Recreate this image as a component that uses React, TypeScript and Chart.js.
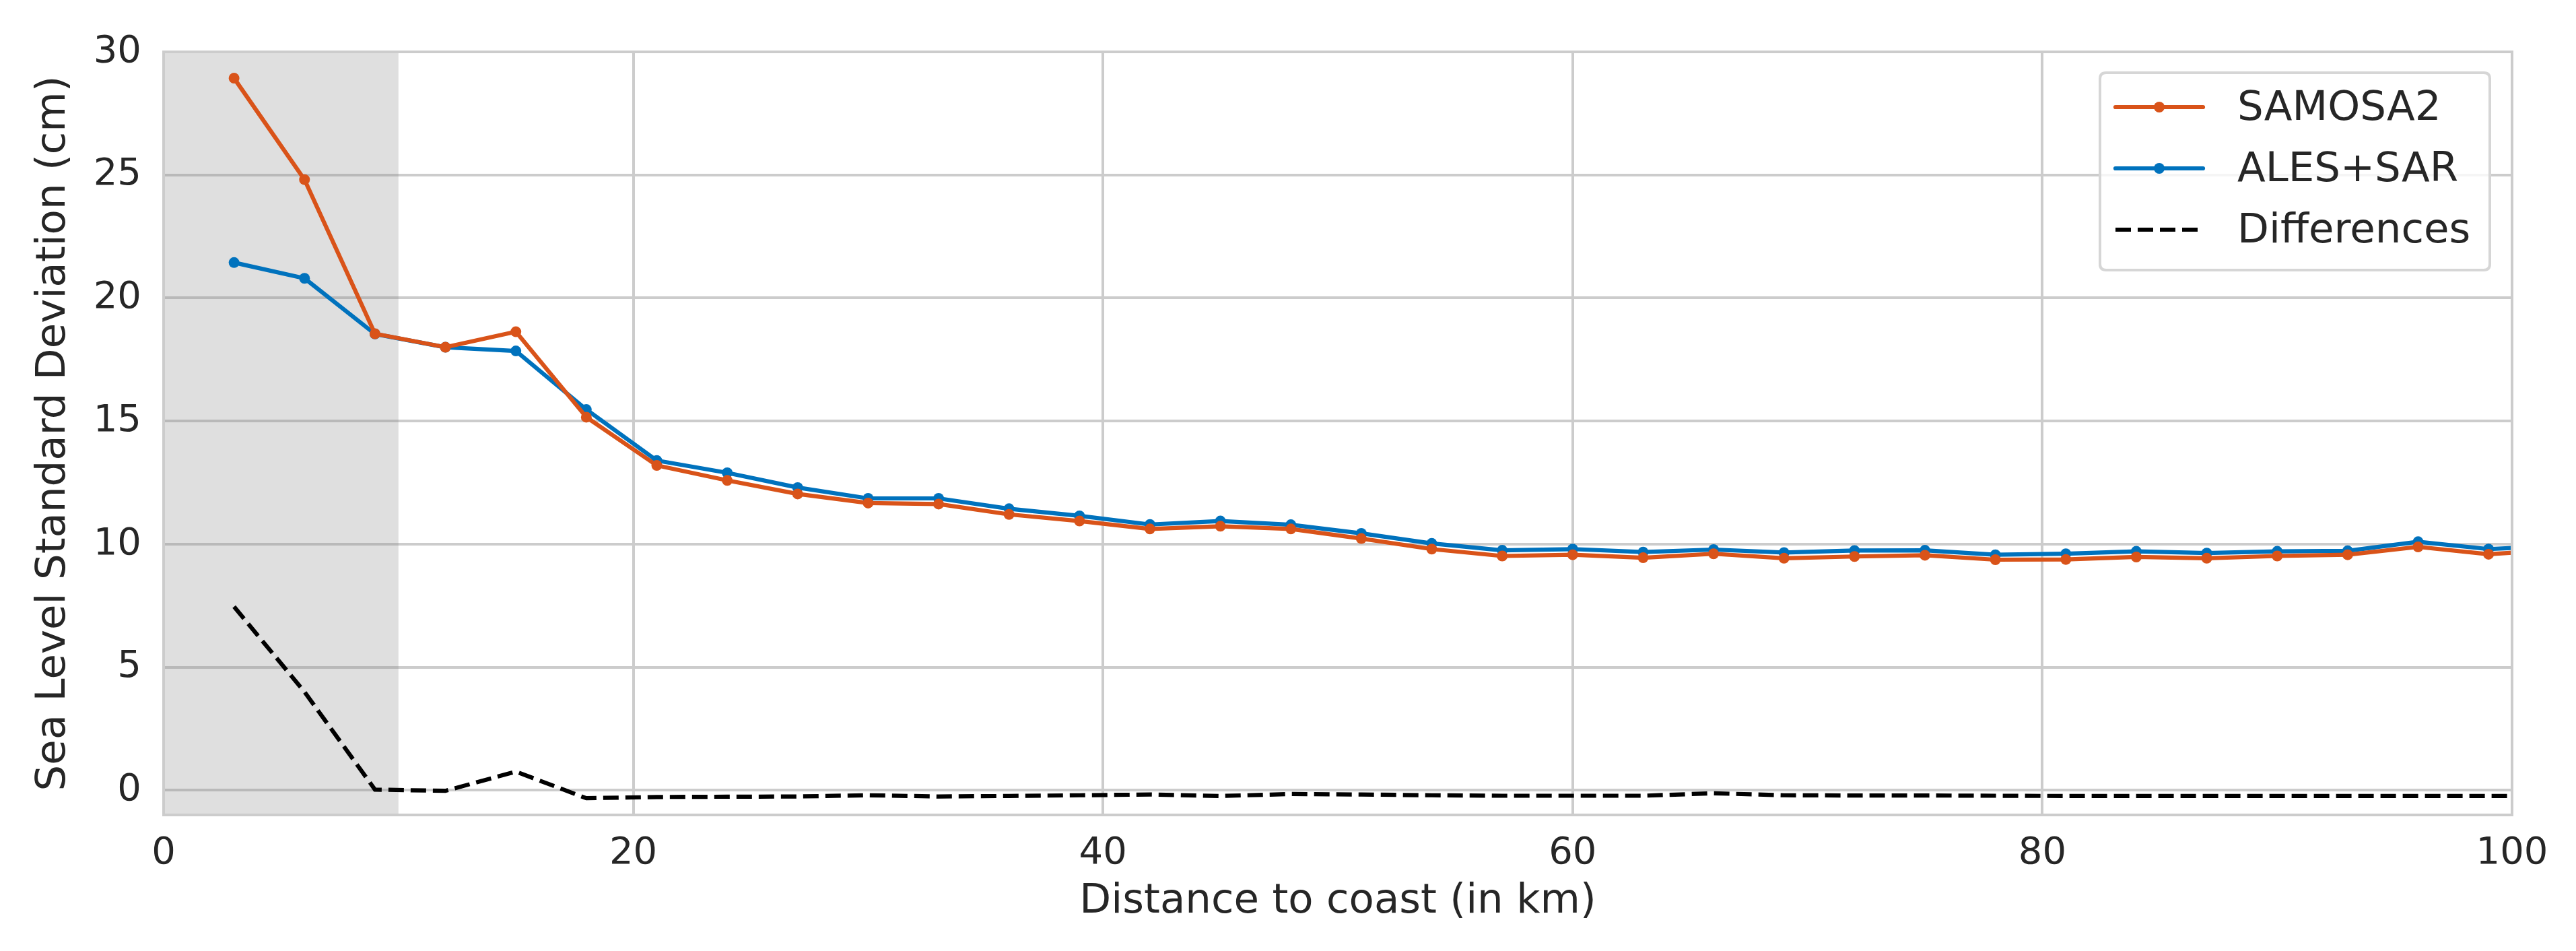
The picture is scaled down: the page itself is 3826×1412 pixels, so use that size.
import React, { useEffect, useRef } from "react";
import { Chart, registerables } from "chart.js";

Chart.register(...registerables);

// ---- data ----
const distanceKm = [3, 6, 9, 12, 15, 18, 21, 24, 27, 30, 33, 36, 39, 42, 45, 48, 51, 54, 57, 60, 63, 66, 69, 72, 75, 78, 81, 84, 87, 90, 93, 96, 99, 102];

const samosa2 = [28.93, 24.81, 18.55, 18.0, 18.63, 15.16, 13.2, 12.59, 12.04, 11.67, 11.63, 11.21, 10.94, 10.62, 10.73, 10.62, 10.23, 9.8, 9.52, 9.57, 9.45, 9.61, 9.43, 9.5, 9.55, 9.37, 9.38, 9.48, 9.43, 9.52, 9.57, 9.89, 9.59, 9.78];

const alesSar = [21.44, 20.8, 18.54, 18.0, 17.85, 15.47, 13.4, 12.9, 12.3, 11.86, 11.86, 11.44, 11.15, 10.8, 10.94, 10.79, 10.44, 10.03, 9.75, 9.8, 9.68, 9.78, 9.66, 9.74, 9.75, 9.57, 9.61, 9.71, 9.64, 9.71, 9.73, 10.1, 9.8, 9.94];

const differences = [7.46, 4.0, 0.03, -0.02, 0.76, -0.32, -0.27, -0.26, -0.25, -0.2, -0.25, -0.23, -0.2, -0.17, -0.23, -0.15, -0.17, -0.2, -0.22, -0.22, -0.22, -0.12, -0.2, -0.21, -0.21, -0.22, -0.23, -0.23, -0.23, -0.23, -0.23, -0.23, -0.23, -0.23];

const seriesNames = ["SAMOSA2", "ALES+SAR", "Differences"];
const xTicks = [0, 20, 40, 60, 80, 100];
const yTicks = [0, 5, 10, 15, 20, 25, 30];
const xRange = [0, 100];
const yRange = [-1, 30];
const coastalZone = [0, 10];
const xTitle = "Distance to coast (in km)";
const yTitle = "Sea Level Standard Deviation (cm)";

// ---- styles ----
const ORANGE = "#D95319";
const BLUE = "#0072BD";
const TEXT = "#262626";
const GRID = "#cccccc";
const FONT = "'DejaVu Sans', sans-serif";
const LINE_W = 6.2;
const POINT_R = 8;
const DASH = [23, 10];

const toPoints = (ys: number[]) => distanceKm.map((x, i) => ({ x, y: ys[i] }));

const shadePlugin = {
  id: "shade",
  beforeDatasetsDraw(chart: any) {
    const { ctx, chartArea, scales } = chart;
    const x0 = scales.x.getPixelForValue(coastalZone[0]);
    const x1 = scales.x.getPixelForValue(coastalZone[1]);
    ctx.save();
    ctx.fillStyle = "rgba(128,128,128,0.25)";
    ctx.fillRect(x0, chartArea.top, x1 - x0, chartArea.bottom - chartArea.top);
    ctx.restore();
  },
};

const spinePlugin = {
  id: "spines",
  afterDatasetsDraw(chart: any) {
    const { ctx, chartArea } = chart;
    ctx.save();
    ctx.strokeStyle = GRID;
    ctx.lineWidth = 4;
    ctx.strokeRect(chartArea.left, chartArea.top, chartArea.right - chartArea.left, chartArea.bottom - chartArea.top);
    ctx.restore();
  },
};

const legendPlugin = {
  id: "customLegend",
  afterDraw(chart: any) {
    const { ctx } = chart;
    const bx = 3119, by = 108, bw = 579, bh = 293, r = 9;
    ctx.save();
    ctx.beginPath();
    ctx.moveTo(bx + r, by);
    ctx.lineTo(bx + bw - r, by);
    ctx.quadraticCurveTo(bx + bw, by, bx + bw, by + r);
    ctx.lineTo(bx + bw, by + bh - r);
    ctx.quadraticCurveTo(bx + bw, by + bh, bx + bw - r, by + bh);
    ctx.lineTo(bx + r, by + bh);
    ctx.quadraticCurveTo(bx, by + bh, bx, by + bh - r);
    ctx.lineTo(bx, by + r);
    ctx.quadraticCurveTo(bx, by, bx + r, by);
    ctx.closePath();
    ctx.fillStyle = "rgba(255,255,255,0.8)";
    ctx.fill();
    ctx.strokeStyle = "#d6d6d6";
    ctx.lineWidth = 4;
    ctx.stroke();

    const colors = [ORANGE, BLUE, "#000000"];
    const rows = [159, 250, 341];
    const lx0 = 3142, lx1 = 3272;
    seriesNames.forEach((name, i) => {
      const y = rows[i];
      ctx.beginPath();
      ctx.strokeStyle = colors[i];
      ctx.lineWidth = LINE_W;
      if (i === 2) {
        ctx.setLineDash(DASH);
        ctx.lineCap = "butt";
      } else {
        ctx.setLineDash([]);
        ctx.lineCap = "round";
      }
      ctx.moveTo(lx0, y);
      ctx.lineTo(lx1, y);
      ctx.stroke();
      ctx.setLineDash([]);
      if (i < 2) {
        ctx.beginPath();
        ctx.fillStyle = colors[i];
        ctx.arc((lx0 + lx1) / 2, y, POINT_R, 0, Math.PI * 2);
        ctx.fill();
      }
      ctx.fillStyle = TEXT;
      ctx.font = `61px ${FONT}`;
      ctx.textAlign = "left";
      ctx.textBaseline = "middle";
      ctx.fillText(name, 3323, y + 3);
    });
    ctx.restore();
  },
};

export default function App() {
  const ref = useRef<HTMLCanvasElement>(null);

  useEffect(() => {
    const canvas = ref.current;
    if (!canvas) return;
    const chart = new Chart(canvas, {
      type: "line",
      data: {
        datasets: [
          {
            label: seriesNames[0],
            data: toPoints(samosa2),
            borderColor: ORANGE,
            backgroundColor: ORANGE,
            borderWidth: LINE_W,
            pointRadius: POINT_R,
            pointBorderWidth: 0,
            pointBackgroundColor: ORANGE,
            borderJoinStyle: "round",
            tension: 0,
          },
          {
            label: seriesNames[1],
            data: toPoints(alesSar),
            borderColor: BLUE,
            backgroundColor: BLUE,
            borderWidth: LINE_W,
            pointRadius: POINT_R,
            pointBorderWidth: 0,
            pointBackgroundColor: BLUE,
            borderJoinStyle: "round",
            tension: 0,
          },
          {
            label: seriesNames[2],
            data: toPoints(differences),
            borderColor: "#000000",
            backgroundColor: "#000000",
            borderWidth: LINE_W,
            borderDash: DASH,
            pointRadius: 0,
            tension: 0,
          },
        ],
      },
      options: {
        animation: false,
        responsive: false,
        devicePixelRatio: 1,
        events: [],
        layout: { padding: { left: 0, right: 95, top: 77, bottom: 0 } },
        plugins: {
          legend: { display: false },
          tooltip: { enabled: false },
          title: { display: false },
        },
        scales: {
          x: {
            type: "linear",
            min: xRange[0],
            max: xRange[1],
            afterBuildTicks: (scale: any) => {
              scale.ticks = xTicks.map((v) => ({ value: v }));
            },
            afterFit: (scale: any) => {
              scale.height = 202;
            },
            grid: { color: GRID, lineWidth: 4, drawTicks: false },
            border: { display: false },
            ticks: {
              padding: 24,
              color: TEXT,
              font: { family: FONT, size: 56 },
              maxRotation: 0,
              callback: (v: any) => String(v),
            },
            title: {
              display: true,
              text: xTitle,
              color: TEXT,
              font: { family: FONT, size: 61 },
              padding: { top: 0, bottom: 36 },
            },
          },
          y: {
            type: "linear",
            min: yRange[0],
            max: yRange[1],
            afterBuildTicks: (scale: any) => {
              scale.ticks = yTicks.map((v) => ({ value: v }));
            },
            afterFit: (scale: any) => {
              scale.width = 243;
            },
            grid: { color: GRID, lineWidth: 4, drawTicks: false },
            border: { display: false },
            ticks: {
              padding: 33,
              color: TEXT,
              font: { family: FONT, size: 56 },
              callback: (v: any) => String(v),
            },
            title: {
              display: true,
              text: yTitle,
              color: TEXT,
              font: { family: FONT, size: 61 },
              padding: { top: 44, bottom: 0 },
            },
          },
        },
      },
      plugins: [shadePlugin, spinePlugin, legendPlugin],
    } as any);
    return () => chart.destroy();
  }, []);

  return (
    <div style={{ position: "fixed", left: 0, top: 0, width: 3826, height: 1412, background: "#ffffff" }}>
      <canvas ref={ref} width={3826} height={1412} style={{ display: "block", width: 3826, height: 1412 }} />
    </div>
  );
}
